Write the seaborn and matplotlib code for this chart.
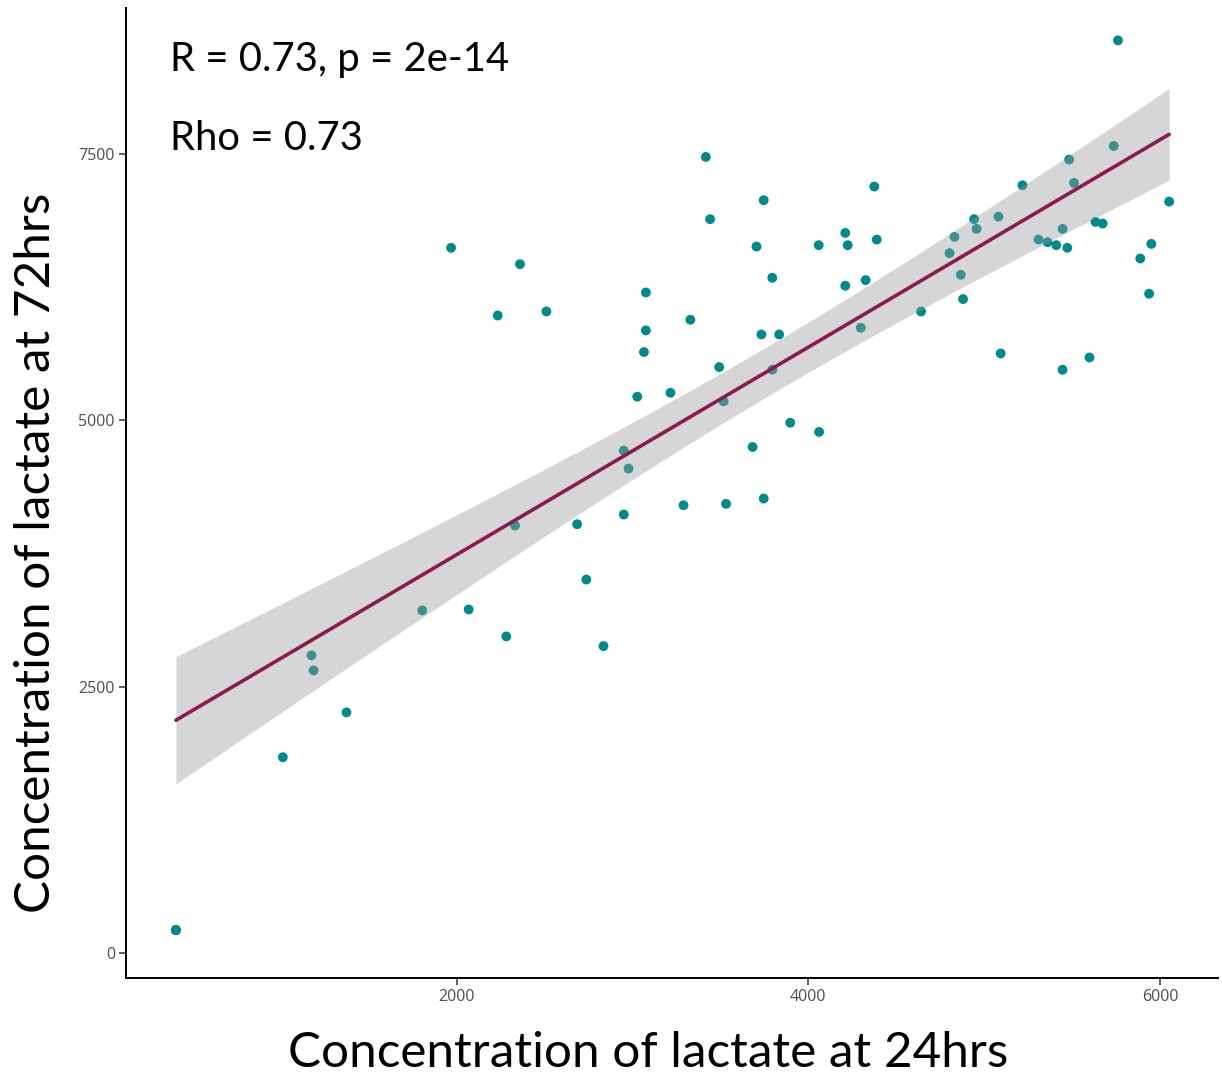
import numpy as np
import pandas as pd
import seaborn as sns
import matplotlib.pyplot as plt

# Lactate concentration at 24 hrs (x) and 72 hrs (y)
# (the lowest point is drawn three times on top of itself in the reference)
lactate_24h = [403, 403, 403, 1011, 1174, 1186, 1373, 1804, 1968, 2068, 2233, 2282,
               2332, 2360, 2510, 2685, 2737, 2835, 2950, 2977, 2950, 3027,
               3065, 3076, 3076, 3216, 3290, 3329, 3417, 3441, 3493, 3518,
               3532, 3683, 3705, 3733, 3746, 3746, 3795, 3795, 3834, 3897,
               4059, 4061, 4210, 4210, 4224, 4298, 4326, 4375, 4389, 4641,
               4803, 4831, 4867, 4880, 4943, 4957, 5081, 5094, 5218, 5309,
               5360, 5410, 5446, 5446, 5473, 5483, 5511, 5599, 5633, 5674,
               5737, 5761, 5888, 5938, 5951, 6052]
lactate_72h = [216, 216, 216, 1838, 2794, 2653, 2259, 3216, 6619, 3225, 5984, 2972,
               4013, 6466, 6022, 4025, 3506, 2881, 4716, 4547, 4116, 5222,
               5641, 5844, 6200, 5259, 4203, 5944, 7472, 6888, 5500, 5178,
               4216, 4750, 6631, 5806, 7066, 4266, 6338, 5475, 5806, 4978,
               6644, 4891, 6759, 6263, 6644, 5869, 6316, 7194, 6697, 6022,
               6569, 6722, 6366, 6138, 6888, 6797, 6912, 5628, 7206, 6697,
               6672, 6644, 6797, 5475, 6619, 7447, 7228, 5590, 6863, 6847,
               7575, 8566, 6519, 6188, 6656, 7053]

x_ticks = [2000, 4000, 6000]
y_ticks = [0, 2500, 5000, 7500]
x_label = "Concentration of lactate at 24hrs"
y_label = "Concentration of lactate at 72hrs"
stat_text_1 = "R = 0.73, p = 2e-14"
stat_text_2 = "Rho = 0.73"
T_975 = 1.992  # Student t quantile for a 95% interval (df ~ 76)

sns.set_theme(style="white")
plt.rcParams['font.family'] = ['Lato', 'DejaVu Sans']

df = pd.DataFrame({"x": lactate_24h, "y": lactate_72h})

fig = plt.figure(figsize=(12.22, 10.76), dpi=100)
fig.patch.set_facecolor("white")
ax = fig.add_axes([126 / 1222, 98 / 1076, 1092 / 1222, 970 / 1076])

sns.scatterplot(data=df, x="x", y="y", color="#008B8B", s=50,
                edgecolor="none", linewidth=0, ax=ax, zorder=1)
sns.regplot(data=df, x="x", y="y", scatter=False, ci=None, color="#8B1A4F",
            line_kws={"lw": 2.6, "zorder": 3}, ax=ax)

# analytic 95% confidence band of the linear fit (like geom_smooth(method="lm"))
x = df["x"].to_numpy(float)
y = df["y"].to_numpy(float)
n = len(x)
b1, b0 = np.polyfit(x, y, 1)
resid = y - (b0 + b1 * x)
s = np.sqrt(np.sum(resid ** 2) / (n - 2))
sxx = np.sum((x - x.mean()) ** 2)
xs = np.linspace(x.min(), x.max(), 200)
yh = b0 + b1 * xs
se = s * np.sqrt(1 / n + (xs - x.mean()) ** 2 / sxx)
ax.fill_between(xs, yh - T_975 * se, yh + T_975 * se, color="#999999",
                alpha=0.4, linewidth=0, zorder=2)

ax.set_xlim(119, 6330)
ax.set_ylim(-234, 8870)
ax.set_xticks(x_ticks)
ax.set_yticks(y_ticks)
ax.set_xticklabels([str(t) for t in x_ticks], family="Open Sans")
ax.set_yticklabels([str(t) for t in y_ticks], family="Open Sans")
ax.tick_params(axis="both", length=5, width=1.1, color="#333333",
               labelcolor="#4d4d4d", labelsize=11.5, pad=3,
               left=True, bottom=True)

for sp in ["top", "right"]:
    ax.spines[sp].set_visible(False)
for sp in ["left", "bottom"]:
    ax.spines[sp].set_color("black")
    ax.spines[sp].set_linewidth(1.4)

ax.set_xlabel(x_label, fontsize=35.6, color="black")
ax.set_ylabel(y_label, fontsize=35.6, color="black")
ax.xaxis.set_label_coords((648 - 126) / 1092, (978 - 1031) / 970)
ax.yaxis.set_label_coords((58 - 126) / 1092, (978 - 553) / 970)

ax.text((170 - 126) / 1092, (978 - 59) / 970, stat_text_1, transform=ax.transAxes,
        fontsize=28.8, va="center", ha="left", color="black")
ax.text((170 - 126) / 1092, (978 - 139) / 970, stat_text_2, transform=ax.transAxes,
        fontsize=28.8, va="center", ha="left", color="black")

fig.savefig("out.png", dpi=100, facecolor="white")
